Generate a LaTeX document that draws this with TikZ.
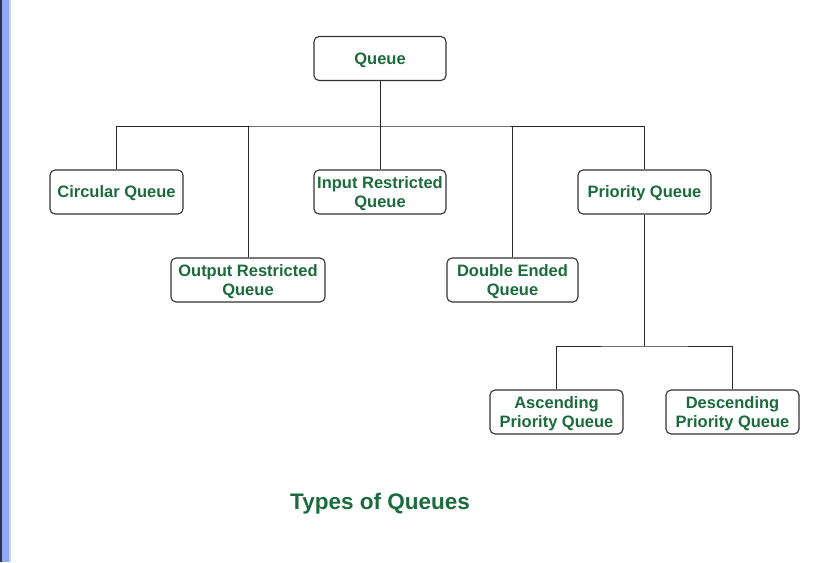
\documentclass[tikz,border=0pt]{standalone}
\usepackage{fontspec}
\setmainfont{Liberation Sans}
\definecolor{qgreen}{HTML}{1B6B3C}
\definecolor{qedge}{HTML}{333333}
\definecolor{stripeblue}{HTML}{8FA9F2}
\definecolor{stripedark}{HTML}{2A3350}
\definecolor{stripepale}{HTML}{C9D6F7}
\begin{document}
\begin{tikzpicture}[x=1pt,y=-1pt,
  qbox/.style={draw=qedge, line width=1.1pt, rounded corners=5pt, fill=white,
    text=qgreen, font=\bfseries\fontsize{16.5}{19.5}\selectfont, align=center,
    inner sep=0pt, minimum height=44pt, text depth=0pt},
  conn/.style={draw=black!85, line width=0.9pt}]
\useasboundingbox (0,0) rectangle (837,562);
\fill[white] (0,0) rectangle (837,562);
\fill[stripedark] (0,0) rectangle (2,562);
\fill[stripeblue] (2,0) rectangle (9,562);
\fill[stripepale] (9,0) rectangle (11,562);
\node[qbox, minimum width=132pt] (queue) at (380,58.5) {Queue};
\node[qbox, minimum width=133pt] (circ) at (116.5,192) {Circular Queue};
\node[qbox, minimum width=154pt] (outr) at (248,280) {Output Restricted\\Queue};
\node[qbox, minimum width=132pt] (inr) at (380,192) {Input Restricted\\Queue};
\node[qbox, minimum width=131pt] (deq) at (512.5,280) {Double Ended\\Queue};
\node[qbox, minimum width=133pt] (prio) at (644.5,192) {Priority Queue};
\node[qbox, minimum width=133pt] (asc) at (556.5,412) {Ascending\\Priority Queue};
\node[qbox, minimum width=133pt] (desc) at (732.5,412) {Descending\\Priority Queue};
\node[text=qgreen, font=\bfseries\fontsize{22.5}{26}\selectfont] (title) at (380,503.5) {Types of Queues};
\coordinate (bus) at (380,126);
\coordinate (pbus) at (644.5,346);
\draw[conn] (queue.south) -- (bus);
\draw[conn] (circ.north) |- (bus) -| (prio.north);
\draw[conn] (outr.north) -- (outr.north |- bus);
\draw[conn] (inr.north) -- (bus);
\draw[conn] (deq.north) -- (deq.north |- bus);
\draw[conn] (prio.south) -- (pbus);
\draw[conn] (asc.north) |- (pbus) -| (desc.north);
\end{tikzpicture}
\end{document}
